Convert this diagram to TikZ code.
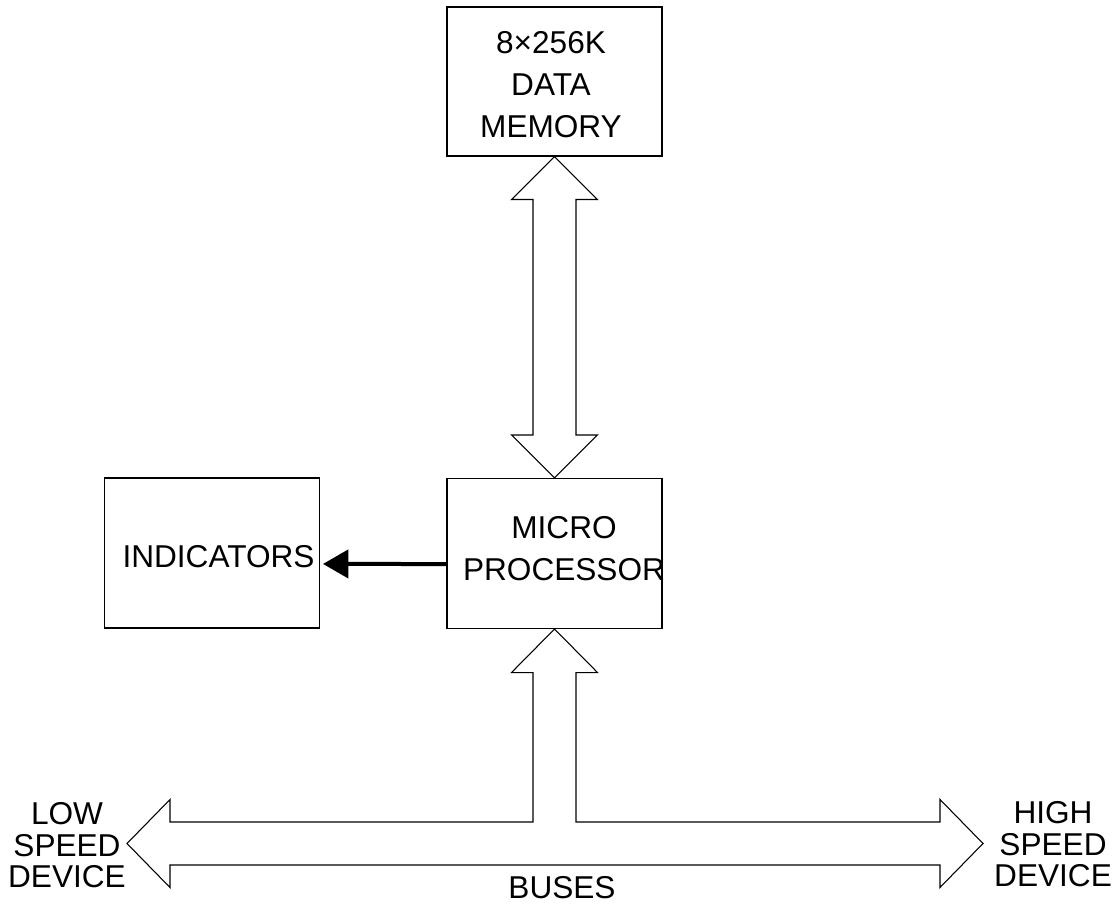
\documentclass[tikz,border=0pt]{standalone}
\usepackage{fontspec}
\setmainfont{Liberation Sans}
\usepackage{tikz}
\usetikzlibrary{arrows.meta, calc}

\begin{document}
\begin{tikzpicture}[x=0.75pt, y=-0.75pt]
\tikzstyle{block}=[draw, line width=0.8pt, minimum width=161.25pt, minimum height=112.5pt, inner sep=0pt]
\tikzstyle{txt}=[align=center, inner sep=0pt, font=\fontsize{23.7}{31.5}\selectfont]
\tikzstyle{devtxt}=[align=center, inner sep=0pt, font=\fontsize{23.7}{23.7}\selectfont]
\tikzstyle{bus}=[draw, line width=0.8pt, line join=miter]
\useasboundingbox (0,0) rectangle (1117,909);

\node[block, minimum height=111.75pt] (mem) at (554.5,81.5) {};
\node[block] (micro) at (554.5,553.5) {};
\node[block] (ind) at (212,553) {};

\node[txt] (memtxt) at (551,84.5) {8×256K\\DATA\\MEMORY};
\node[txt] (microtxt) at (564,549) {MICRO\\PROCESSOR};
\node[txt] (indtxt) at (218.5,557) {INDICATORS};
\node[devtxt] (lowtxt) at (67,845.5) {LOW\\SPEED\\DEVICE};
\node[devtxt] (hightxt) at (1053,844.5) {HIGH\\SPEED\\DEVICE};
\node[txt] (bustxt) at (562,888) {BUSES};

\coordinate (low) at (127,843.5);
\coordinate (high) at (983,843.5);

% memory <-> processor
\path[bus] (mem.south) -- ++(43,43) -- ++(-21.5,0)
  -- ($(micro.north)+(21.5,-43)$) -- ++(21.5,0) -- (micro.north)
  -- ++(-43,-43) -- ++(21.5,0) -- ($(mem.south)+(-21.5,43)$)
  -- ++(-21.5,0) -- cycle;

% processor <-> buses
\path[bus] (micro.south) -- ++(43,43.5) -- ++(-21.5,0)
  |- ($(high)+(-43,-21.5)$) -- ++(0,-22.5) -- (high)
  -- ++(-43,44) -- ++(0,-22.5) -- ($(low)+(43,21.5)$)
  -- ++(0,22.5) -- (low) -- ++(43,-44) -- ++(0,22.5)
  -| ($(micro.south)+(-21.5,43.5)$) -- ++(-21.5,0) -- cycle;

\draw[line width=3pt, -{Triangle[length=19pt, width=21pt]}]
  ([yshift=-7.9pt]micro.west) -- ([xshift=2.2pt, yshift=-8.2pt]ind.east);
\end{tikzpicture}
\end{document}
